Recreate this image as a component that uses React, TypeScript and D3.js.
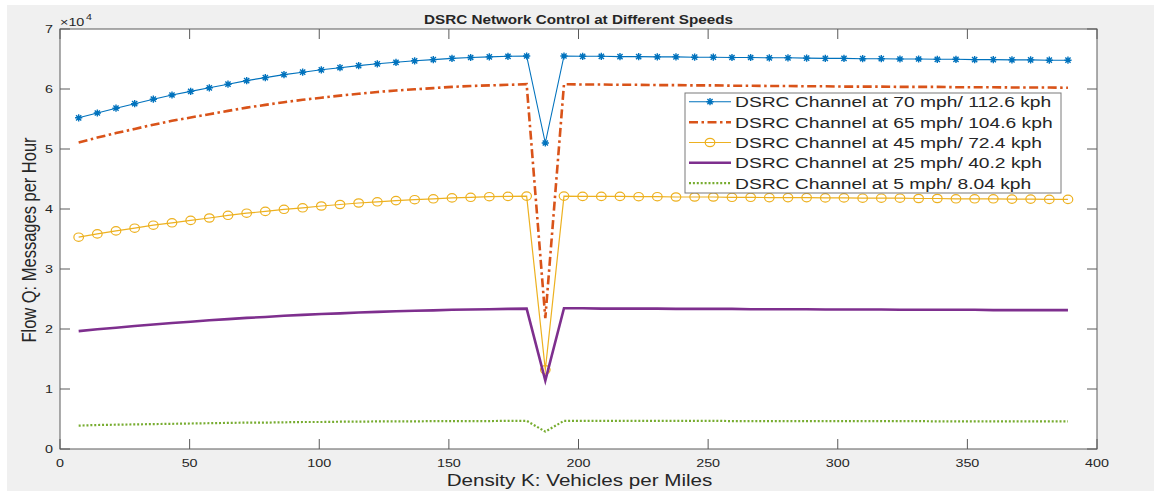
import React from 'react';
import * as d3 from 'd3';

const X_VALUES = [
  7.2, 14.4, 21.6, 28.8, 36, 43.2, 50.4, 57.6, 64.8, 72,
  79.2, 86.4, 93.6, 100.8, 108, 115.2, 122.4, 129.6, 136.8, 144,
  151.2, 158.4, 165.6, 172.8, 180, 187.2, 194.4, 201.6, 208.8, 216,
  223.2, 230.4, 237.6, 244.8, 252, 259.2, 266.4, 273.6, 280.8, 288,
  295.2, 302.4, 309.6, 316.8, 324, 331.2, 338.4, 345.6, 352.8, 360,
  367.2, 374.4, 381.6, 388.8,
];

const FLOW_70 = [
  5.52, 5.6, 5.68, 5.755, 5.83, 5.9, 5.96, 6.02, 6.08, 6.14,
  6.19, 6.24, 6.28, 6.32, 6.355, 6.39, 6.42, 6.445, 6.47, 6.49,
  6.51, 6.525, 6.535, 6.545, 6.55, 5.1, 6.55, 6.545, 6.545, 6.54,
  6.54, 6.535, 6.535, 6.53, 6.53, 6.525, 6.525, 6.52, 6.52, 6.515,
  6.51, 6.51, 6.505, 6.505, 6.5, 6.5, 6.495, 6.495, 6.49, 6.49,
  6.485, 6.485, 6.48, 6.48,
];

const FLOW_65 = [
  5.11, 5.19, 5.265, 5.335, 5.405, 5.47, 5.525, 5.58, 5.635, 5.69,
  5.735, 5.78, 5.82, 5.855, 5.89, 5.92, 5.95, 5.975, 5.995, 6.015,
  6.035, 6.05, 6.06, 6.07, 6.08, 2.18, 6.08, 6.075, 6.075, 6.07,
  6.07, 6.065, 6.065, 6.06, 6.06, 6.055, 6.055, 6.05, 6.05, 6.045,
  6.045, 6.04, 6.04, 6.04, 6.035, 6.035, 6.035, 6.03, 6.03, 6.03,
  6.025, 6.025, 6.025, 6.02,
];

const FLOW_45 = [
  3.53, 3.585, 3.635, 3.68, 3.73, 3.77, 3.81, 3.85, 3.895, 3.93,
  3.96, 3.995, 4.02, 4.05, 4.075, 4.1, 4.12, 4.14, 4.155, 4.17,
  4.185, 4.195, 4.205, 4.21, 4.215, 1.32, 4.215, 4.21, 4.21, 4.21,
  4.205, 4.205, 4.2, 4.2, 4.2, 4.195, 4.195, 4.19, 4.19, 4.19,
  4.185, 4.185, 4.18, 4.18, 4.18, 4.175, 4.175, 4.17, 4.17, 4.17,
  4.165, 4.165, 4.16, 4.16,
];

const FLOW_25 = [
  1.965, 1.995, 2.02, 2.05, 2.075, 2.1, 2.12, 2.145, 2.165, 2.185,
  2.2, 2.22, 2.235, 2.25, 2.26, 2.275, 2.285, 2.295, 2.305, 2.31,
  2.32, 2.325, 2.33, 2.335, 2.34, 1.14, 2.345, 2.345, 2.34, 2.34,
  2.34, 2.34, 2.335, 2.335, 2.335, 2.335, 2.33, 2.33, 2.33, 2.33,
  2.325, 2.325, 2.325, 2.325, 2.32, 2.32, 2.32, 2.32, 2.32, 2.315,
  2.315, 2.315, 2.315, 2.315,
];

const FLOW_5 = [
  0.39, 0.4, 0.405, 0.41, 0.415, 0.42, 0.425, 0.43, 0.435, 0.44,
  0.44, 0.445, 0.45, 0.45, 0.455, 0.455, 0.46, 0.46, 0.46, 0.465,
  0.465, 0.465, 0.465, 0.47, 0.47, 0.29, 0.47, 0.47, 0.47, 0.47,
  0.47, 0.47, 0.47, 0.47, 0.47, 0.465, 0.465, 0.465, 0.465, 0.465,
  0.465, 0.465, 0.465, 0.465, 0.465, 0.465, 0.46, 0.46, 0.46, 0.46,
  0.46, 0.46, 0.46, 0.46,
];

const SERIES_LABELS = [
  'DSRC Channel at 70 mph/ 112.6 kph',
  'DSRC Channel at 65 mph/ 104.6 kph',
  'DSRC Channel at 45 mph/ 72.4 kph',
  'DSRC Channel at 25 mph/ 40.2 kph',
  'DSRC Channel at 5 mph/ 8.04 kph',
];

const X_TICKS = [0, 50, 100, 150, 200, 250, 300, 350, 400];
const Y_TICKS = [0, 1, 2, 3, 4, 5, 6, 7];

const TITLE = 'DSRC Network Control at Different Speeds';
const X_LABEL = 'Density K: Vehicles per Miles';
const Y_LABEL = 'Flow Q: Messages per Hour';

const FONT = '"Liberation Sans", Arial, Helvetica, sans-serif';
const SX = 1.25;
const TXT = '#262626';

type Style = {
  color: string;
  width: number;
  dash?: string;
  marker?: 'star' | 'circle';
};

const STYLES: Style[] = [
  { color: '#0072BD', width: 1.1, marker: 'star' },
  { color: '#D95319', width: 2.6, dash: '9,3.5,2.5,3.5' },
  { color: '#EDB120', width: 1.2, marker: 'circle' },
  { color: '#7E2F8E', width: 2.6 },
  { color: '#77AC30', width: 2.2, dash: '2,1.9' },
];

function T(props: {
  x: number; y: number; size: number; anchor?: string; weight?: string;
  rotate?: boolean; children: React.ReactNode;
}) {
  const { x, y, size, anchor = 'start', weight = 'normal', rotate, children } = props;
  const tr = rotate
    ? `translate(${x},${y}) scale(${SX},1) rotate(-90)`
    : `translate(${x},${y}) scale(${SX},1)`;
  return (
    <text transform={tr} fontSize={size} fontFamily={FONT} fill={TXT}
      textAnchor={anchor} fontWeight={weight}>
      {children}
    </text>
  );
}

function Marker({ kind, cx, cy, color }: { kind?: string; cx: number; cy: number; color: string }) {
  if (kind === 'star') {
    const a = 3.6, b = 2.6;
    return (
      <path d={`M${cx - a},${cy}H${cx + a}M${cx},${cy - a}V${cy + a}M${cx - b},${cy - b}L${cx + b},${cy + b}M${cx - b},${cy + b}L${cx + b},${cy - b}`}
        stroke={color} strokeWidth={1.4} fill="none" />
    );
  }
  if (kind === 'circle') {
    return <ellipse cx={cx} cy={cy} rx={4.8} ry={4.2} stroke={color} strokeWidth={1.2} fill="none" />;
  }
  return null;
}

export default function App() {
  const W = 1154, H = 491;
  const L = 60, R = 1097, TOP = 29, BOT = 449;
  const x = d3.scaleLinear().domain([0, 400]).range([L, R]);
  const y = d3.scaleLinear().domain([0, 7]).range([BOT, TOP]);
  const series = [FLOW_70, FLOW_65, FLOW_45, FLOW_25, FLOW_5];
  const line = d3.line<[number, number]>().x(d => x(d[0])).y(d => y(d[1]));
  const tickLen = 10;

  const legX = 685, legY = 93, legW = 376, legH = 100;
  const rowY = [101.7, 122.3, 142.5, 162.8, 183.2];

  return (
    <svg width={W} height={H} style={{ position: 'absolute', left: 0, top: 0, display: 'block' }}>
      <rect x={0} y={0} width={W} height={H} fill="#ffffff" />
      <rect x={7} y={5} width={W - 7} height={H - 5} fill="#f0f0f0" />
      <rect x={L} y={TOP} width={R - L} height={BOT - TOP} fill="#ffffff" />

      {X_TICKS.map(t => (
        <g key={'xt' + t}>
          <line x1={x(t)} x2={x(t)} y1={BOT} y2={BOT - tickLen} stroke="#5a5a5a" strokeWidth={1} />
          <line x1={x(t)} x2={x(t)} y1={TOP} y2={TOP + tickLen} stroke="#5a5a5a" strokeWidth={1} />
          <T x={x(t)} y={467} size={11.5} anchor="middle">{t}</T>
        </g>
      ))}
      {Y_TICKS.map(t => (
        <g key={'yt' + t}>
          <line x1={L} x2={L + tickLen} y1={y(t)} y2={y(t)} stroke="#5a5a5a" strokeWidth={1} />
          <line x1={R} x2={R - tickLen} y1={y(t)} y2={y(t)} stroke="#5a5a5a" strokeWidth={1} />
          <T x={53} y={y(t) + 4} size={11.5} anchor="end">{t}</T>
        </g>
      ))}

      {series.map((vals, i) => {
        const st = STYLES[i];
        const pts: [number, number][] = X_VALUES.map((xv, j) => [xv, vals[j]]);
        return (
          <g key={'s' + i}>
            <path d={line(pts) || ''} fill="none" stroke={st.color} strokeWidth={st.width}
              strokeDasharray={st.dash} strokeLinejoin="miter" strokeMiterlimit={10} />
            {st.marker && pts.map((p, j) => (
              <Marker key={j} kind={st.marker} cx={x(p[0])} cy={y(p[1])} color={st.color} />
            ))}
          </g>
        );
      })}

      <rect x={L} y={TOP} width={R - L} height={BOT - TOP} fill="none" stroke="#5a5a5a" strokeWidth={1} />

      <T x={60} y={26} size={11.5}>×10</T>
      <T x={86} y={20} size={8.5}>4</T>

      <T x={(L + R) / 2} y={24} size={12.2} anchor="middle" weight="bold">{TITLE}</T>
      <T x={(L + R) / 2 + 1} y={486} size={16.5} anchor="middle">{X_LABEL}</T>
      <T x={36} y={240} size={16.5} anchor="middle" rotate>{Y_LABEL}</T>

      <rect x={legX} y={legY} width={legW} height={legH} fill="#ffffff" stroke="#7a7a7a" strokeWidth={1} />
      {SERIES_LABELS.map((lab, i) => {
        const st = STYLES[i];
        const cy = rowY[i];
        return (
          <g key={'lg' + i}>
            <line x1={689} x2={731} y1={cy} y2={cy} stroke={st.color} strokeWidth={st.width}
              strokeDasharray={st.dash} />
            {st.marker && <Marker kind={st.marker} cx={710} cy={cy} color={st.color} />}
            <T x={735} y={cy + 5.5} size={15.4}>{lab}</T>
          </g>
        );
      })}
    </svg>
  );
}
